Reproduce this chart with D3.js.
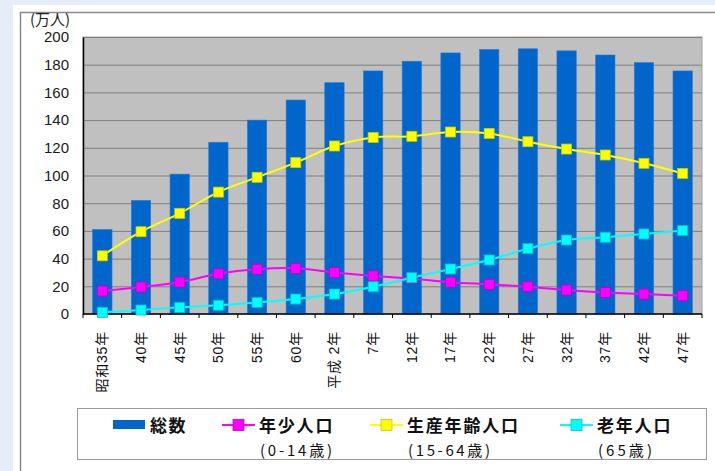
<!DOCTYPE html>
<html>
<head>
<meta charset="utf-8">
<script src="https://cdn.jsdelivr.net/npm/d3@7"></script>
<style>
  body { margin: 0; background: #e6ecf8; }
  svg { display: block; font-family: "Liberation Sans", "Noto Sans CJK JP", sans-serif; }
</style>
</head>
<body>
<svg id="chart"></svg>
<script>
const categories = ["昭和35年", "40年", "45年", "50年", "55年", "60年", "平成 2年", "7年",
  "12年", "17年", "22年", "27年", "32年", "37年", "42年", "47年"];
const total = [61, 82, 101, 124, 140, 154.5, 167, 175.5, 182.5, 188.5, 191, 191.5, 190, 187, 181.5, 175.5];
const young = [16.6, 19.5, 23, 29, 32.3, 33, 30, 27.5, 25.5, 23, 21.4, 19.7, 17.3, 15.5, 14.4, 13.2];
const working = [42, 59.4, 72.7, 88, 98.7, 109.3, 121.3, 127.5, 128.3, 131.4, 130.4, 124.4, 119.1, 114.8, 108.8, 101.5];
const elderly = [1.2, 2.9, 4.8, 6.3, 8.4, 10.8, 14.4, 19.7, 26.2, 32.5, 39, 47.2, 53.4, 55.4, 57.8, 60.2];
const yTicks = [0, 20, 40, 60, 80, 100, 120, 140, 160, 180, 200];

const W = 715, H = 471;
const plot = { left: 83, right: 702, top: 37, bottom: 314 };

const svg = d3.select("#chart").attr("width", W).attr("height", H);

// outer frame
svg.append("rect").attr("x", 13).attr("y", 5).attr("width", W - 13).attr("height", H - 5).attr("fill", "#fff");
svg.append("path")
  .attr("d", `M20.5,${H} V12.5 H${W}`)
  .attr("fill", "none").attr("stroke", "#8a8a8a").attr("stroke-width", 1.5);

const x = d3.scaleBand().domain(categories)
  .range([plot.left, plot.right]).paddingInner(0.5).paddingOuter(0.25);
const y = d3.scaleLinear().domain([0, 200]).range([plot.bottom, plot.top]);

// plot background
svg.append("rect")
  .attr("x", plot.left).attr("y", plot.top)
  .attr("width", plot.right - plot.left).attr("height", plot.bottom - plot.top)
  .attr("fill", "#c0c0c0").attr("stroke", "#a0a0a0");

// gridlines
svg.append("g").selectAll("line").data(yTicks.slice(1)).join("line")
  .attr("x1", plot.left).attr("x2", plot.right)
  .attr("y1", d => y(d) + 0.5).attr("y2", d => y(d) + 0.5)
  .attr("stroke", "#7f7f7f").attr("stroke-width", 1);

// bars
svg.append("g").selectAll("rect").data(total).join("rect")
  .attr("x", (d, i) => x(categories[i]))
  .attr("width", x.bandwidth())
  .attr("y", d => y(d))
  .attr("height", d => y(0) - y(d))
  .attr("fill", "#0066cc")
  .attr("stroke", "#2a7ad6").attr("stroke-width", 0.6);

// y axis
const yAxis = svg.append("g")
  .attr("transform", `translate(${plot.left},0)`)
  .call(d3.axisLeft(y).tickValues(yTicks).tickSize(0).tickPadding(14));
yAxis.select(".domain").attr("stroke", "#000").attr("stroke-width", 1.5);
yAxis.selectAll("text").attr("font-size", 15).attr("fill", "#1a1a1a");

// x axis
const step = x.step();
const xAxis = svg.append("g");
xAxis.append("line")
  .attr("x1", plot.left).attr("x2", plot.right)
  .attr("y1", plot.bottom).attr("y2", plot.bottom)
  .attr("stroke", "#000").attr("stroke-width", 1.5);
xAxis.selectAll(".tk").data(d3.range(categories.length + 1)).join("line")
  .attr("class", "tk")
  .attr("x1", i => plot.left + i * step).attr("x2", i => plot.left + i * step)
  .attr("y1", plot.bottom).attr("y2", plot.bottom + 4)
  .attr("stroke", "#000");
xAxis.selectAll("text").data(categories).join("text")
  .attr("transform", d => `translate(${x(d) + x.bandwidth() / 2},331) rotate(-90)`)
  .attr("text-anchor", "end")
  .attr("dy", "0.35em")
  .attr("font-size", 14)
  .attr("letter-spacing", 0.8)
  .attr("fill", "#111")
  .text(d => d);

// lines
const series = [
  { values: young, color: "#ff00ff", edge: "#c000c0" },
  { values: working, color: "#ffff00", edge: "#c8c800" },
  { values: elderly, color: "#00ffff", edge: "#00c0c0" }
];
const line = d3.line()
  .x((d, i) => x(categories[i]) + x.bandwidth() / 2)
  .y(d => y(d))
  .curve(d3.curveCatmullRom);

series.forEach(s => {
  svg.append("path").datum(s.values)
    .attr("d", line)
    .attr("fill", "none").attr("stroke", s.color).attr("stroke-width", 2);
  svg.append("g").selectAll("rect").data(s.values).join("rect")
    .attr("x", (d, i) => x(categories[i]) + x.bandwidth() / 2 - 5)
    .attr("y", d => y(d) - 5)
    .attr("width", 10).attr("height", 10)
    .attr("fill", s.color).attr("stroke", s.edge).attr("stroke-width", 0.8);
});

// unit label
svg.append("text").attr("x", 30).attr("y", 25)
  .attr("font-size", 15).attr("fill", "#222")
  .attr("font-family", "Noto Sans CJK JP")
  .text("(万人)");

// legend
const lg = svg.append("g");
lg.append("rect").attr("x", 77.5).attr("y", 408.5).attr("width", 629).attr("height", 51)
  .attr("fill", "#fff").attr("stroke", "#9a9a9a");
lg.append("rect").attr("x", 113).attr("y", 420).attr("width", 32).attr("height", 9).attr("fill", "#0066cc");
const legendItems = [
  { x: 222, color: "#ff00ff", edge: "#c000c0", name: "年少人口", sub: "(0-14歳)", subW: 72 },
  { x: 370, color: "#ffff00", edge: "#c8c800", name: "生産年齢人口", sub: "(15-64歳)", subW: 82 },
  { x: 560, color: "#00ffff", edge: "#00c0c0", name: "老年人口", sub: "(65歳)", subW: 54 }
];
lg.append("text").attr("x", 150).attr("y", 432).attr("font-size", 17).attr("font-weight", "bold")
  .attr("letter-spacing", 1.5)
  .attr("font-family", "Noto Sans CJK JP").attr("fill", "#111").text("総数");
legendItems.forEach(it => {
  lg.append("line").attr("x1", it.x).attr("x2", it.x + 33).attr("y1", 425).attr("y2", 425)
    .attr("stroke", it.color).attr("stroke-width", 2);
  lg.append("rect").attr("x", it.x + 11).attr("y", 419.5).attr("width", 11).attr("height", 11)
    .attr("fill", it.color).attr("stroke", it.edge).attr("stroke-width", 0.8);
  lg.append("text").attr("x", it.x + 37).attr("y", 432).attr("font-size", 17).attr("font-weight", "bold")
    .attr("letter-spacing", 1.8)
    .attr("font-family", "Noto Sans CJK JP").attr("fill", "#111").text(it.name);
  lg.append("text").attr("x", it.x + 38).attr("y", 456).attr("font-size", 15)
    .attr("textLength", it.subW).attr("lengthAdjust", "spacing")
    .attr("font-family", "Noto Sans CJK JP").attr("fill", "#111").text(it.sub);
});
</script>
</body>
</html>
